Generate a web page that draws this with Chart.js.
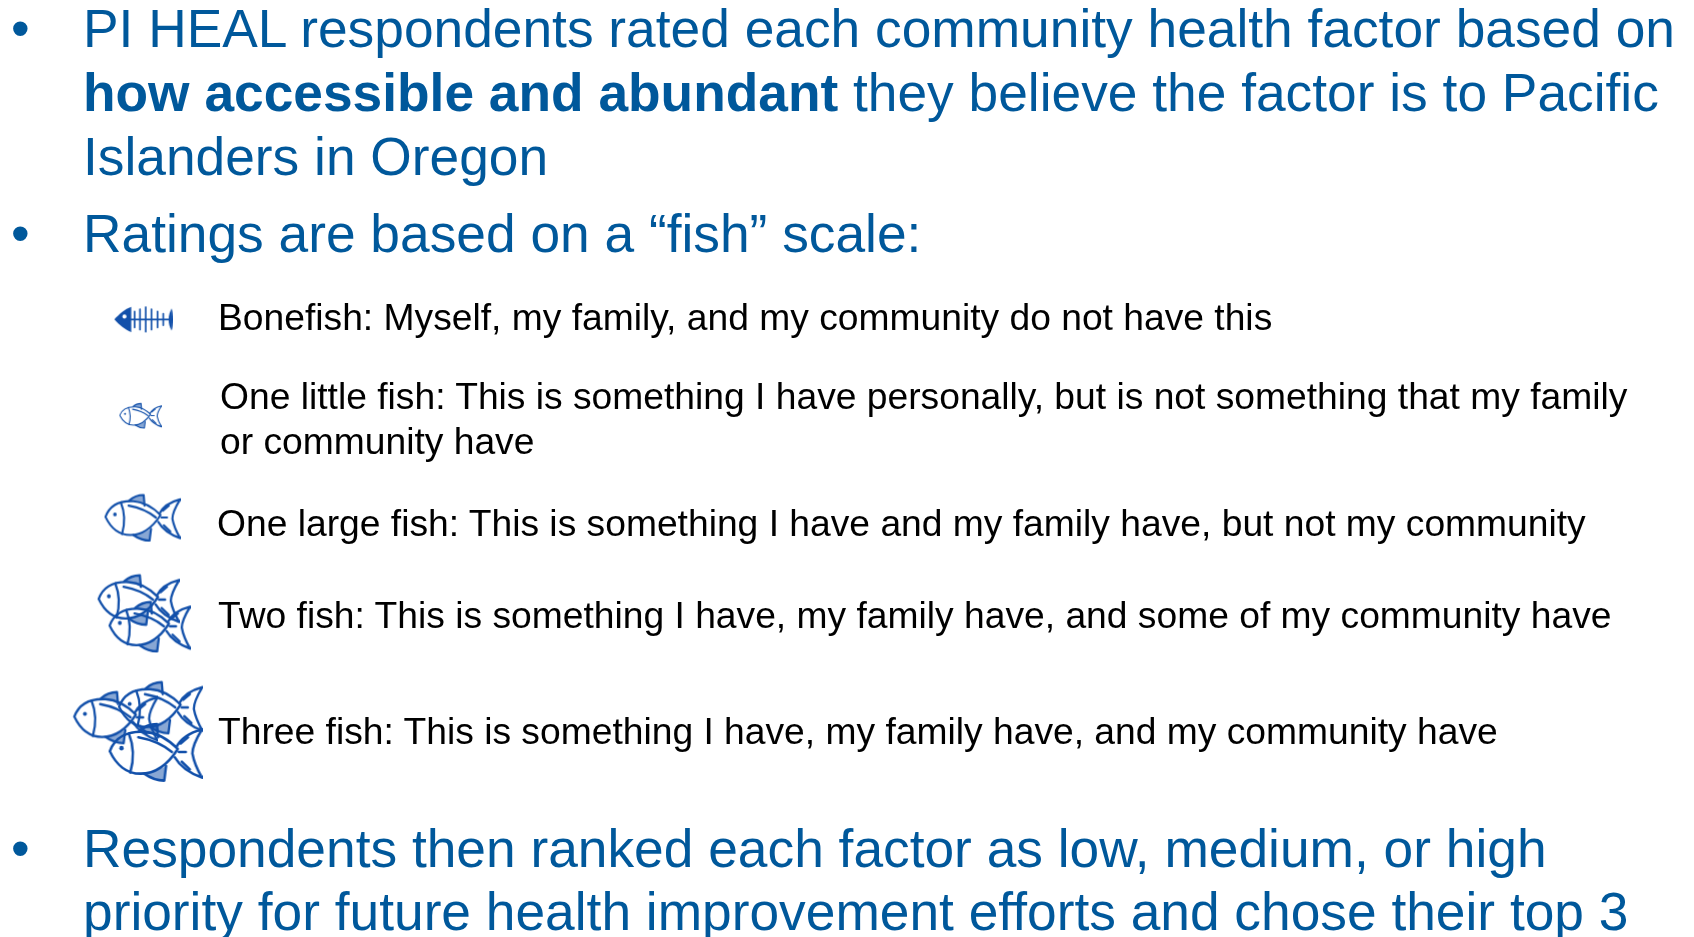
<!DOCTYPE html>
<html>
<head>
<meta charset="utf-8">
<title>PI HEAL fish scale</title>
<script src="https://cdn.jsdelivr.net/npm/chart.js@4"></script>
<style>
  html, body { margin: 0; padding: 0; background: #fff; overflow: hidden; }
  #slide { position: relative; width: 1694px; height: 937px; overflow: hidden; font-family: "Liberation Sans", Arial, sans-serif; }
  #fishChart { position: absolute; left: 0; top: 0; }
  .line { position: absolute; white-space: pre; line-height: 1.117; }
  .big { font-size: 53.3px; color: #00589b; }
  .small { font-size: 37.23px; color: #000; }
</style>
</head>
<body>
<div id="slide">
  <canvas id="fishChart" width="1694" height="937"></canvas>
</div>
<script>
// Rating scale marks
const fishKinds = ['bone', 'little', 'large', 'two', 'two', 'three', 'three', 'threeBig'];
const fishX = [139, 136, 138, 134, 145, 156, 111, 151];
const fishY = [318, 415, 518, 601, 628, 710, 720, 755];

const bulletLines = [
  ['•', 11, 47.5], ['•', 11, 252], ['•', 11, 867]
];
const bigLines = [
  ['PI HEAL respondents rated each community health factor based on', 83, 47.5],
  ['<b>how accessible and abundant</b> they believe the factor is to Pacific', 83, 111.5],
  ['Islanders in Oregon', 83, 175.5],
  ['Ratings are based on a “fish” scale:', 83, 252],
  ['Respondents then ranked each factor as low, medium, or high', 83, 867],
  ['priority for future health improvement efforts and chose their top 3', 83, 930]
];
const smallLines = [
  ['Bonefish: Myself, my family, and my community do not have this', 218, 331],
  ['One little fish: This is something I have personally, but is not something that my family', 220, 410],
  ['or community have', 220, 455],
  ['One large fish: This is something I have and my family have, but not my community', 217, 537],
  ['Two fish: This is something I have, my family have, and some of my community have', 218, 629],
  ['Three fish: This is something I have, my family have, and my community have', 218, 745]
];

const fishBlue = '#1250aa';

function addLines(lines, cls, fontSize) {
  const slide = document.getElementById('slide');
  lines.forEach(([text, x, base]) => {
    const el = document.createElement('div');
    el.className = 'line ' + cls;
    el.innerHTML = text;
    el.style.left = x + 'px';
    el.style.top = (base - 0.905 * fontSize) + 'px';
    slide.appendChild(el);
  });
}

// Outline fish, drawn in a 260x160 box facing left
function drawFish(ctx) {
  ctx.beginPath();
  ctx.moveTo(6, 78);
  ctx.bezierCurveTo(20, 42, 55, 26, 100, 28);
  ctx.bezierCurveTo(145, 30, 175, 56, 192, 72);
  ctx.bezierCurveTo(165, 112, 130, 136, 90, 136);
  ctx.bezierCurveTo(50, 136, 22, 110, 6, 78);
  ctx.stroke();
  // gill
  ctx.beginPath();
  ctx.moveTo(58, 32);
  ctx.bezierCurveTo(72, 65, 72, 100, 62, 133);
  ctx.stroke();
  // side line
  ctx.beginPath();
  ctx.moveTo(84, 42);
  ctx.bezierCurveTo(120, 48, 150, 60, 176, 80);
  ctx.stroke();
  // tail
  ctx.beginPath();
  ctx.moveTo(188, 68);
  ctx.bezierCurveTo(200, 45, 225, 30, 258, 22);
  ctx.bezierCurveTo(240, 50, 232, 72, 232, 84);
  ctx.bezierCurveTo(236, 105, 245, 125, 258, 146);
  ctx.bezierCurveTo(225, 135, 200, 120, 184, 94);
  ctx.stroke();
  ctx.beginPath();
  ctx.moveTo(195, 80);
  ctx.lineTo(214, 80);
  ctx.moveTo(200, 58);
  ctx.lineTo(220, 42);
  ctx.moveTo(203, 105);
  ctx.lineTo(225, 125);
  ctx.stroke();
  // fins, cross hatched in the original
  ctx.save();
  ctx.globalAlpha = 0.5;
  ctx.beginPath();
  ctx.moveTo(86, 26);
  ctx.bezierCurveTo(100, 14, 118, 8, 135, 8);
  ctx.lineTo(138, 42);
  ctx.bezierCurveTo(120, 32, 105, 28, 86, 26);
  ctx.closePath();
  ctx.fill();
  ctx.beginPath();
  ctx.moveTo(100, 136);
  ctx.bezierCurveTo(115, 132, 140, 128, 160, 116);
  ctx.lineTo(155, 154);
  ctx.bezierCurveTo(135, 154, 118, 148, 100, 136);
  ctx.closePath();
  ctx.fill();
  ctx.restore();
  ctx.beginPath();
  ctx.moveTo(86, 26);
  ctx.bezierCurveTo(100, 14, 118, 8, 135, 8);
  ctx.lineTo(138, 42);
  ctx.moveTo(100, 136);
  ctx.bezierCurveTo(118, 148, 135, 154, 155, 154);
  ctx.lineTo(160, 116);
  ctx.stroke();
  // eye
  ctx.beginPath();
  ctx.arc(38, 70, 6, 0, Math.PI * 2);
  ctx.fill();
}

// Fish skeleton, drawn in a 175x75 box facing left
function drawBone(ctx) {
  ctx.beginPath();
  ctx.moveTo(2, 37);
  ctx.bezierCurveTo(16, 22, 34, 8, 52, 2);
  ctx.lineTo(52, 72);
  ctx.bezierCurveTo(34, 66, 16, 52, 2, 37);
  ctx.closePath();
  ctx.fill();
  ctx.save();
  ctx.fillStyle = '#fff';
  ctx.beginPath();
  ctx.arc(32, 29, 6, 0, Math.PI * 2);
  ctx.fill();
  ctx.restore();
  ctx.lineWidth = 5;
  ctx.beginPath();
  ctx.moveTo(50, 37);
  ctx.lineTo(165, 37);
  [[62, 22], [78, 28], [95, 34], [112, 28], [130, 22], [147, 16]].forEach(([x, h]) => {
    ctx.moveTo(x, 37 - h);
    ctx.lineTo(x, 37 + h);
  });
  ctx.stroke();
  ctx.beginPath();
  ctx.moveTo(172, 6);
  ctx.bezierCurveTo(160, 25, 160, 50, 172, 68);
  ctx.bezierCurveTo(176, 50, 176, 25, 172, 6);
  ctx.closePath();
  ctx.fill();
}

function makeIcon(width, height, boxW, boxH, draw, lineWidth) {
  const c = document.createElement('canvas');
  c.width = width;
  c.height = height;
  const ctx = c.getContext('2d');
  const k = width / boxW;
  ctx.scale(k, height / boxH);
  ctx.strokeStyle = fishBlue;
  ctx.fillStyle = fishBlue;
  ctx.lineWidth = lineWidth / k;
  ctx.lineCap = 'round';
  ctx.lineJoin = 'round';
  draw(ctx);
  return c;
}

function initChart() {
  const icons = {
    bone: makeIcon(59, 27, 175, 75, drawBone, 1.6),
    little: makeIcon(43, 27, 260, 160, drawFish, 1.1),
    large: makeIcon(77, 50, 260, 160, drawFish, 2.1),
    two: makeIcon(83, 54, 260, 160, drawFish, 2.3),
    three: makeIcon(86, 56, 260, 160, drawFish, 2.3),
    threeBig: makeIcon(95, 62, 260, 160, drawFish, 2.5)
  };

  new Chart(document.getElementById('fishChart'), {
    type: 'scatter',
    data: {
      labels: fishKinds,
      datasets: [{
        data: fishX.map((x, i) => ({ x, y: fishY[i] })),
        pointStyle: ctx => icons[fishKinds[ctx.dataIndex]],
        showLine: false
      }]
    },
    options: {
      responsive: false,
      animation: false,
      events: [],
      layout: { padding: 0 },
      plugins: { legend: { display: false }, tooltip: { enabled: false } },
      scales: {
        x: { type: 'linear', min: 0, max: 1694, display: false },
        y: { type: 'linear', min: 0, max: 937, reverse: true, display: false }
      }
    }
  });
}

addLines(bulletLines, 'big', 53.3);
addLines(bigLines, 'big', 53.3);
addLines(smallLines, 'small', 37.23);
initChart();
</script>
</body>
</html>
